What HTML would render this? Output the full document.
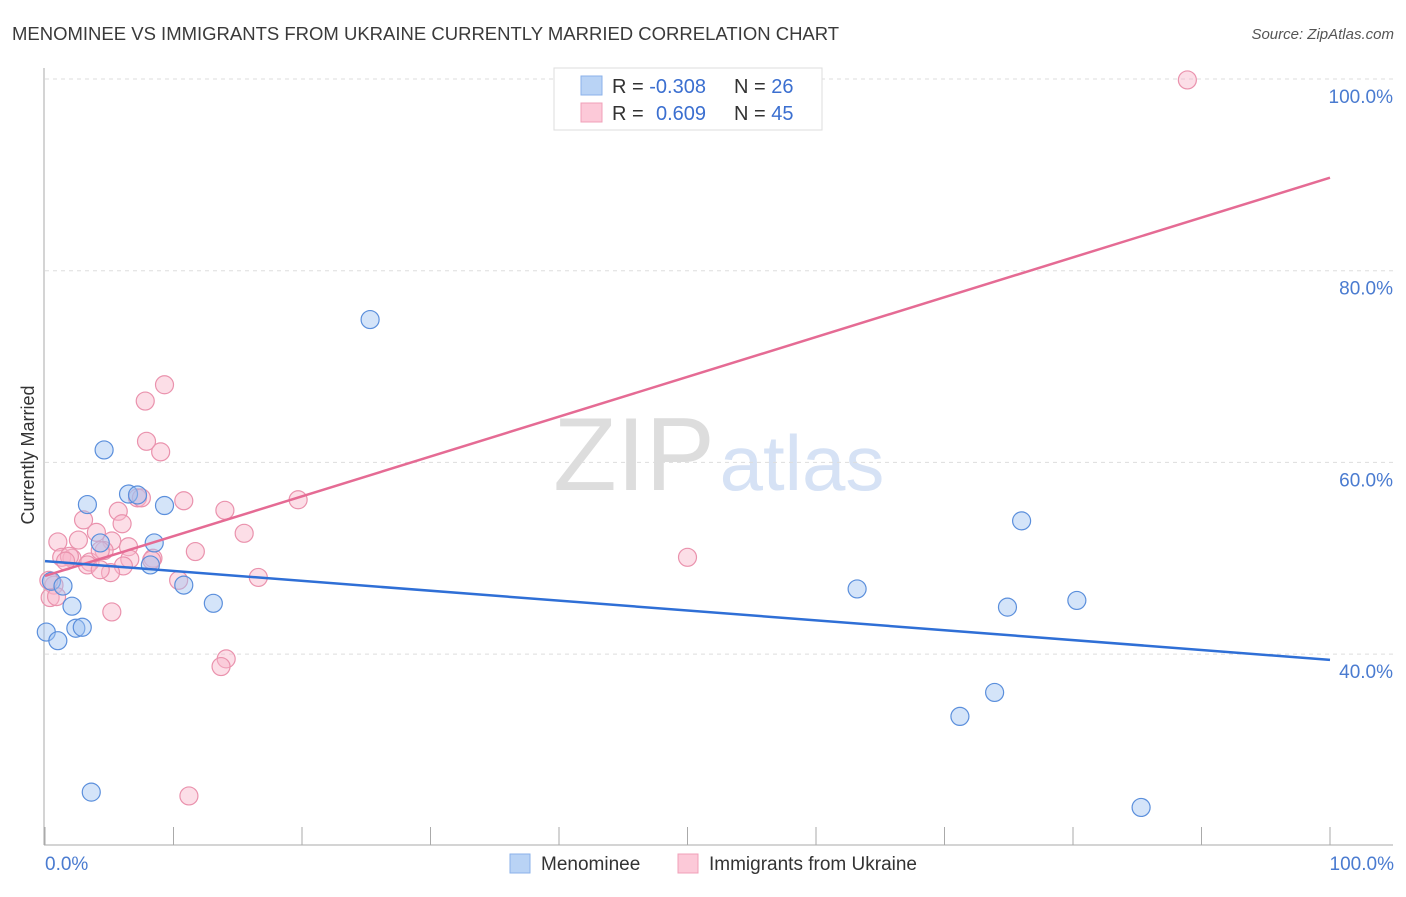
<!DOCTYPE html>
<html><head><meta charset="utf-8"><style>
body{margin:0;background:#fff;font-family:"Liberation Sans",sans-serif}
svg text{font-family:"Liberation Sans",sans-serif}
</style></head><body>
<svg width="1406" height="892" xmlns="http://www.w3.org/2000/svg">
<text x="12" y="40" font-size="18.5" fill="#3a3a3a">MENOMINEE VS IMMIGRANTS FROM UKRAINE CURRENTLY MARRIED CORRELATION CHART</text>
<text x="1394" y="39" font-size="15" fill="#555" font-style="italic" text-anchor="end">Source: ZipAtlas.com</text>
<text x="634" y="490" font-size="104" fill="#ddd" font-family="Liberation Serif" text-anchor="middle">ZIP</text>
<text x="802" y="490" font-size="78" fill="#d6e2f5" text-anchor="middle">atlas</text>
<g id="grid"></g>
<g id="axes"></g>
<g id="marks"></g>
<text transform="translate(34,455) rotate(-90)" font-size="18" fill="#333" text-anchor="middle">Currently Married</text>
<text x="45" y="870" font-size="19" fill="#4a7bd0">0.0%</text>
<text x="1394" y="870" font-size="19" fill="#4a7bd0" text-anchor="end">100.0%</text>
<g>
<rect x="554" y="68" width="268" height="62" fill="#fff" stroke="#ddd"/>
<rect x="581" y="76" width="21" height="19" fill="#b9d3f5" stroke="#8bb2ea"/>
<rect x="581" y="103" width="21" height="19" fill="#fcc9d8" stroke="#f0a0b8"/>
<text x="612" y="93" font-size="20" fill="#333">R = <tspan fill="#3b6fd0">-0.308</tspan></text>
<text x="734" y="93" font-size="20" fill="#333">N = <tspan fill="#3b6fd0">26</tspan></text>
<text x="612" y="120" font-size="20" fill="#333">R = <tspan fill="#3b6fd0" x="656">0.609</tspan></text>
<text x="734" y="120" font-size="20" fill="#333">N = <tspan fill="#3b6fd0">45</tspan></text>
</g>
<g>
<rect x="510" y="854" width="20" height="19" fill="#b9d3f5" stroke="#8bb2ea"/>
<text x="541" y="870" font-size="19" fill="#333">Menominee</text>
<rect x="678" y="854" width="20" height="19" fill="#fcc9d8" stroke="#f0a0b8"/>
<text x="709" y="870" font-size="19" fill="#333">Immigrants from Ukraine</text>
</g>
</svg>
<script>
const yTicks=[40,60,80,100];
const yTickLabels=["40.0%","60.0%","80.0%","100.0%"];
const xTicks=[0,10,20,30,40,50,60,70,80,90,100];
const blueX=[0.1,1.0,0.5,1.4,2.1,2.4,2.9,3.3,4.3,4.6,6.5,7.2,8.2,8.5,9.3,10.8,13.1,25.3,63.2,71.2,73.9,74.9,76.0,80.3,85.3,3.6];
const blueY=[42.3,41.4,47.6,47.1,45.0,42.7,42.8,55.6,51.6,61.3,56.7,56.6,49.3,51.6,55.5,47.2,45.3,74.9,46.8,33.5,36.0,44.9,53.9,45.6,24.0,25.6];
const pinkX=[88.9,9.3,7.8,7.9,9.0,7.2,10.8,19.7,14.0,5.7,3.0,6.0,4.0,15.5,1.0,2.6,5.2,6.5,11.7,1.3,2.1,1.9,3.5,4.6,8.4,6.6,6.1,5.1,10.4,16.6,50.0,5.2,14.1,13.7,11.2,0.7,0.4,0.9,4.3,3.3,1.6,8.3,4.3,0.3,7.5];
const pinkY=[99.9,68.1,66.4,62.2,61.1,56.3,56.0,56.1,55.0,54.9,54.0,53.6,52.7,52.6,51.7,51.9,51.8,51.2,50.7,50.1,50.0,50.2,49.6,50.8,50.0,49.9,49.2,48.5,47.7,48.0,50.1,44.4,39.5,38.7,25.2,47.2,45.9,46.0,50.8,49.3,49.7,49.8,48.8,47.7,56.3];
const blueLine=[49.7,39.4];
const pinkLine=[48.15,89.7];
const NS="http://www.w3.org/2000/svg";
const X=v=>45+v*12.85, Y=v=>79+(100-v)*9.585;
function mk(t,a,p){const e=document.createElementNS(NS,t);for(const k in a)e.setAttribute(k,a[k]);document.getElementById(p).appendChild(e);return e;}
yTicks.forEach((v,i)=>{
 const g=mk('line',{x1:45,x2:1393,y1:Y(v),y2:Y(v),stroke:'#ddd','stroke-dasharray':'4,4'},'grid');
 
 
 const t=mk('text',{x:1393,y:Y(v)+24,'font-size':19,fill:'#4a7bd0','text-anchor':'end'},'grid');
 t.textContent=yTickLabels[i];
 
 
});
let a=mk('line',{x1:44,x2:44,y1:68,y2:845,stroke:'#aaa'},'axes');


a=mk('line',{x1:44,x2:1393,y1:845,y2:845,stroke:'#aaa'},'axes');


xTicks.forEach(v=>{const t=mk('line',{x1:X(v),x2:X(v),y1:827,y2:845,stroke:'#aaa'},'axes');
 
 });
function pts(xs,ys,fill,stroke,name){xs.forEach((x,i)=>{const c=mk('circle',{cx:X(x),cy:Y(ys[i]),r:9,fill:fill,stroke:stroke,'stroke-width':1.2},'marks');
 
 });}
pts(pinkX,pinkY,'rgba(248,182,202,0.45)','#ea92ad','ukraine-point');
pts(blueX,blueY,'rgba(160,196,242,0.45)','#5b8fdc','menominee-point');
let l=mk('line',{x1:X(0),x2:X(100),y1:Y(pinkLine[0]),y2:Y(pinkLine[1]),stroke:'#e56b94','stroke-width':2.5},'marks');


l=mk('line',{x1:X(0),x2:X(100),y1:Y(blueLine[0]),y2:Y(blueLine[1]),stroke:'#2f6fd6','stroke-width':2.5},'marks');


</script>
</body></html>
